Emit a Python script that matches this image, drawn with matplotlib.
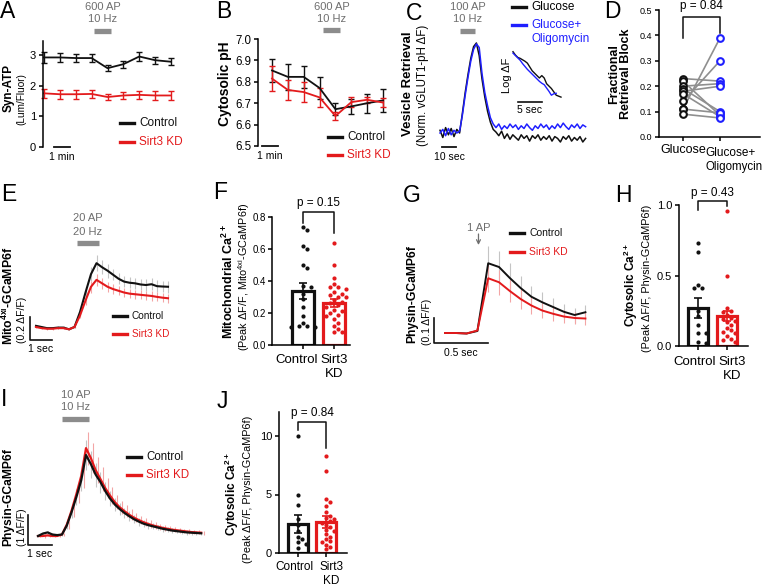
import matplotlib
matplotlib.use('Agg')
import matplotlib.pyplot as plt
import numpy as np
from matplotlib.lines import Line2D
from matplotlib.transforms import blended_transform_factory as blend

plt.rcParams['font.family'] = ['Liberation Sans', 'DejaVu Sans']
plt.rcParams['mathtext.fontset'] = 'custom'
plt.rcParams['mathtext.rm'] = 'Liberation Sans'
plt.rcParams['mathtext.default'] = 'regular'
plt.rcParams['axes.linewidth'] = 1.1
plt.rcParams['xtick.major.width'] = 1.1
plt.rcParams['ytick.major.width'] = 1.1
plt.rcParams['xtick.major.size'] = 3
plt.rcParams['ytick.major.size'] = 3
plt.rcParams['xtick.major.pad'] = 2
plt.rcParams['ytick.major.pad'] = 2

BLACK = '#111111'
RED = '#e31a1c'
BLUE = '#1f1fff'
GRAY = '#8c8c8c'
TGRAY = '#6e6e6e'
EGRAY = '#c4c4c4'
EPINK = '#f3a5a5'

# ---------------- data ----------------
# A: Syn-ATP, one point per minute
a_ctrl = [2.92, 2.92, 2.90, 2.90, 2.57, 2.70, 2.95, 2.83, 2.78]
a_ctrl_err = [0.17, 0.15, 0.14, 0.14, 0.10, 0.12, 0.15, 0.12, 0.12]
a_kd = [1.75, 1.72, 1.72, 1.73, 1.63, 1.68, 1.70, 1.68, 1.68]
a_kd_err = [0.15, 0.14, 0.14, 0.13, 0.10, 0.12, 0.13, 0.14, 0.15]

# B: cytosolic pH
b_ctrl = [6.853, 6.823, 6.823, 6.771, 6.672, 6.685, 6.700, 6.713]
b_ctrl_err = [0.055, 0.062, 0.050, 0.050, 0.028, 0.035, 0.045, 0.052]
b_kd = [6.815, 6.762, 6.752, 6.727, 6.640, 6.705, 6.716, 6.703]
b_kd_err = [0.058, 0.045, 0.045, 0.045, 0.020, 0.025, 0.015, 0.020]

# C: vesicle retrieval traces, every 2 s
c_glc = [0.03, -0.05, 0.06, -0.02, 0.05, -0.04, 0.04, 0.00, 0.22, 0.45,
         0.65, 0.83, 0.96, 1.00, 0.86, 0.60, 0.40, 0.24, 0.12, 0.04,
         0.01, -0.03, 0.02, -0.06, -0.01, -0.07, -0.02, -0.05, -0.08, -0.02,
         -0.06, -0.03, -0.09, -0.03, -0.06, -0.02, -0.08, -0.04, -0.07, -0.03,
         -0.09, -0.04, -0.06, -0.10, -0.04, -0.07, -0.03, -0.09, -0.05, -0.08,
         -0.04, -0.10, -0.06]
c_olig = [0.00, 0.04, -0.03, 0.05, -0.02, 0.03, 0.00, 0.02, 0.20, 0.42,
          0.62, 0.80, 0.93, 0.99, 0.95, 0.66, 0.45, 0.30, 0.17, 0.10,
          0.06, 0.10, 0.04, 0.08, 0.05, 0.10, 0.06, 0.09, 0.04, 0.08,
          0.05, 0.10, 0.06, 0.03, 0.08, 0.05, 0.10, 0.06, 0.09, 0.04,
          0.08, 0.05, 0.10, 0.06, 0.11, 0.07, 0.04, 0.09, 0.06, 0.10,
          0.05, 0.09, 0.07]
# C inset: log dF decay, every 0.5 s
ci_glc = [0.0, -0.07, -0.12, -0.14, -0.17, -0.20, -0.24, -0.32, -0.40, -0.45,
          -0.50, -0.55, -0.50, -0.55, -0.67, -0.72, -0.77, -0.84, -0.91, -0.93, -0.95]
ci_olig = [-0.03, -0.08, -0.13, -0.18, -0.25, -0.31, -0.37, -0.42, -0.47, -0.52,
           -0.57, -0.62, -0.66, -0.69, -0.76, -0.83, -0.91, -0.88, -0.87]

# D: fractional retrieval block (paired)
d_glc = [0.23, 0.22, 0.20, 0.19, 0.18, 0.17, 0.14, 0.11, 0.11, 0.09]
d_olig = [0.22, 0.085, 0.21, 0.10, 0.20, 0.08, 0.30, 0.39, 0.095, 0.075]

# E: Mito-GCaMP6f, every 0.25 s
e_ctrl = [0.01, 0.0, -0.01, -0.01, -0.005, -0.005, -0.02, 0.0, 0.13, 0.30,
          0.46, 0.555, 0.52, 0.49, 0.455, 0.42, 0.395, 0.385, 0.38, 0.37,
          0.365, 0.372, 0.355, 0.352, 0.35]
e_kd = [0.0, -0.01, -0.015, -0.015, -0.01, -0.01, -0.02, 0.0, 0.10, 0.23,
        0.35, 0.41, 0.38, 0.35, 0.33, 0.315, 0.30, 0.29, 0.285, 0.28,
        0.275, 0.27, 0.262, 0.255, 0.25]
e_ctrl_err = [0.01, 0.01, 0.01, 0.01, 0.01, 0.01, 0.01, 0.01, 0.03, 0.05,
              0.06, 0.07, 0.06, 0.06, 0.05, 0.05, 0.05, 0.05, 0.05, 0.05,
              0.05, 0.05, 0.05, 0.05, 0.05]
e_kd_err = [0.01, 0.01, 0.01, 0.01, 0.01, 0.01, 0.01, 0.01, 0.02, 0.04,
            0.05, 0.05, 0.05, 0.045, 0.04, 0.04, 0.04, 0.04, 0.04, 0.04,
            0.04, 0.04, 0.04, 0.04, 0.04]

# F: mitochondrial Ca2+
f_ctrl = [0.74, 0.72, 0.62, 0.60, 0.50, 0.48, 0.37, 0.36, 0.32, 0.29, 0.24,
          0.18, 0.14, 0.12, 0.11, 0.11, 0.12]
f_kd = [0.64, 0.50, 0.42, 0.38, 0.36, 0.36, 0.35, 0.33, 0.32, 0.31, 0.30, 0.30,
        0.28, 0.27, 0.26, 0.25, 0.24, 0.22, 0.21, 0.20, 0.19, 0.18, 0.16, 0.14,
        0.12, 0.10, 0.08, 0.08]
f_mean = [0.34, 0.265]
f_sem = [0.05, 0.025]

# G: Physin-GCaMP6f 1 AP, every 0.1 s
g_ctrl = [0.0, 0.0, -0.002, 0.008, 0.279, 0.264, 0.22, 0.18, 0.145, 0.123,
          0.104, 0.085, 0.072, 0.083]
g_kd = [0.0, 0.0, -0.002, 0.01, 0.219, 0.203, 0.168, 0.136, 0.11, 0.09,
        0.077, 0.066, 0.06, 0.058]
g_ctrl_err = [0, 0, 0, 0, 0.07, 0.065, 0.06, 0.05, 0.045, 0.04, 0.035, 0.03, 0.03, 0.03]
g_kd_err = [0, 0, 0, 0, 0.055, 0.05, 0.045, 0.04, 0.035, 0.03, 0.03, 0.025, 0.025, 0.025]

# H: cytosolic Ca2+ (1 AP)
h_ctrl = [0.73, 0.67, 0.43, 0.41, 0.41, 0.25, 0.21, 0.15, 0.09, 0.09, 0.03, 0.02]
h_kd = [0.96, 0.50, 0.27, 0.25, 0.24, 0.22, 0.20, 0.19, 0.18, 0.17, 0.15, 0.13,
        0.11, 0.10, 0.09, 0.07, 0.05, 0.04, 0.03]
h_mean = [0.27, 0.21]
h_sem = [0.07, 0.035]

# I: Physin-GCaMP6f 10 AP, every 0.2 s
i_ctrl = [0.0, 0.08, 0.12, 0.05, 0.03, 0.05, 0.35, 0.8, 1.3, 1.85,
          2.7, 2.4, 2.05, 1.8, 1.5, 1.25, 1.05, 0.9, 0.77, 0.66,
          0.56, 0.48, 0.41, 0.36, 0.32, 0.28, 0.24, 0.21, 0.18, 0.16,
          0.14, 0.12, 0.11, 0.10, 0.09]
i_kd = [0.0, 0.0, 0.02, 0.0, 0.0, 0.05, 0.38, 0.85, 1.4, 2.0,
        2.93, 2.6, 2.2, 1.9, 1.6, 1.35, 1.13, 0.96, 0.83, 0.71,
        0.61, 0.53, 0.46, 0.40, 0.35, 0.31, 0.27, 0.24, 0.21, 0.19,
        0.17, 0.15, 0.13, 0.12, 0.11]
i_err = [0.04, 0.05, 0.05, 0.04, 0.04, 0.05, 0.12, 0.2, 0.28, 0.36,
         0.5, 0.45, 0.4, 0.35, 0.3, 0.26, 0.22, 0.2, 0.18, 0.16,
         0.14, 0.13, 0.12, 0.11, 0.1, 0.09, 0.09, 0.08, 0.08, 0.07,
         0.07, 0.07, 0.06, 0.06, 0.06]

# J: cytosolic Ca2+ (10 AP)
j_ctrl = [10.0, 5.0, 4.1, 2.9, 2.4, 1.9, 1.4, 1.2, 0.9, 0.8, 0.4]
j_kd = [8.3, 7.0, 4.6, 4.4, 4.0, 3.5, 3.2, 3.0, 2.9, 2.7, 2.6, 2.4, 2.2, 2.0,
        1.9, 1.6, 1.4, 1.2, 1.0, 0.9, 0.7, 0.5, 0.3]
j_mean = [2.5, 2.65]
j_sem = [0.75, 0.5]

# ---------------- helpers ----------------
W, H = 763, 587
fig = plt.figure(figsize=(W / 100, H / 100), dpi=100)
fig.patch.set_facecolor('white')


def mapped_axes(left, top, right, bottom, x0px, x0, xs, y0px, y0, ys):
    ax = fig.add_axes([left / W, 1 - bottom / H, (right - left) / W, (bottom - top) / H])
    ax.set_xlim(x0 + (left - x0px) / xs, x0 + (right - x0px) / xs)
    ax.set_ylim(y0 - (bottom - y0px) / ys, y0 + (y0px - top) / ys)
    ax.patch.set_alpha(0)
    return ax


def ftxt(x, y, s, **kw):
    kw.setdefault('ha', 'center')
    kw.setdefault('va', 'center')
    fig.text(x / W, 1 - y / H, s, **kw)


def ylab(x, y, s, size, bold=False):
    ftxt(x, y, s, rotation=90, fontsize=size, fontweight='bold' if bold else 'normal')


def stim(ax, t0, t1, ybar, y1, y2, l1, l2, fs=8):
    tr = blend(ax.transData, fig.transFigure)
    ax.plot([t0, t1], [1 - ybar / H] * 2, transform=tr, color=GRAY, lw=3.8,
            solid_capstyle='butt', clip_on=False)
    xc = (t0 + t1) / 2
    ax.text(xc, 1 - y1 / H, l1, transform=tr, ha='center', va='center', color=TGRAY, fontsize=fs)
    ax.text(xc, 1 - y2 / H, l2, transform=tr, ha='center', va='center', color=TGRAY, fontsize=fs)


def xtext(ax, x, ypx, s, fs, **kw):
    tr = blend(ax.transData, fig.transFigure)
    ax.text(x, 1 - ypx / H, s, transform=tr, ha=kw.pop('ha', 'center'), va='center', fontsize=fs, **kw)


def legend(x, y, dy, labels, colors, fs, ll=14):
    for i, (lab, c) in enumerate(zip(labels, colors)):
        yy = y + i * dy
        fig.add_artist(Line2D([x / W, (x + ll) / W], [1 - yy / H] * 2, color=c, lw=2.4,
                              transform=fig.transFigure))
        ftxt(x + ll + 5, yy, lab, color=c, fontsize=fs, ha='left')


def unclip(cont):
    for art in cont.get_children():
        art.set_clip_on(False)


def swarm(vals, ppu_x, ppu_y, d=4.6):
    vals = np.asarray(vals, float)
    offs = np.zeros(len(vals))
    placed = []
    cands = [0.0] + [s * k * d * 0.9 for k in range(1, 10) for s in (1, -1)]
    for i in np.argsort(-vals):
        yp = vals[i] * ppu_y
        for c in cands:
            if all((c - px) ** 2 + (yp - py) ** 2 >= d * d for px, py in placed):
                break
        placed.append((c, yp))
        offs[i] = c / ppu_x
    return offs


def bar_panel(ax, means, sems, pts, ppu_x, ppu_y, tick_fs, lab_fs, lab_y, lab_dx):
    cols = [BLACK, RED]
    ax.bar([0, 1], means, width=0.7, color='white', edgecolor=cols, linewidth=2.3, zorder=1)
    for i in range(2):
        eb = ax.errorbar(i, means[i], yerr=sems[i], color=cols[i], capsize=3,
                         elinewidth=1.2, capthick=1.2, zorder=2)
        unclip(eb)
        offs = swarm(pts[i], ppu_x, ppu_y)
        ax.scatter(i + offs, pts[i], s=9, color=cols[i], zorder=3, linewidths=0, clip_on=False)
    ax.spines[['top', 'right']].set_visible(False)
    ax.set_xticks([0, 1])
    ax.set_xticklabels(['', ''])
    ax.tick_params(axis='y', labelsize=tick_fs)
    xtext(ax, 0 + lab_dx[0], lab_y, 'Control', lab_fs)
    xtext(ax, 1 + lab_dx[1], lab_y, 'Sirt3', lab_fs)
    xtext(ax, 1 + lab_dx[1], lab_y + 14, 'KD', lab_fs)


def bracket(ax, yl, ytop, yr, ytext, label, fs=8.5):
    ax.plot([0, 0, 1, 1], [yl, ytop, ytop, yr], color=BLACK, lw=1.1, clip_on=False)
    ax.text(0.5, ytext, label, ha='center', va='center', fontsize=fs)


# ---------------- A ----------------
axA = mapped_axes(43, 41, 178, 147, 44, 0, 15.875, 147, 0, 30.67)
a_t = np.arange(len(a_ctrl))
unclip(axA.errorbar(a_t, a_ctrl, yerr=a_ctrl_err, color=BLACK, lw=1.3, capsize=2.5,
                    elinewidth=1, capthick=1))
unclip(axA.errorbar(a_t, a_kd, yerr=a_kd_err, color=RED, lw=1.3, capsize=2.5,
                    elinewidth=1, capthick=1))
axA.spines[['top', 'right', 'bottom']].set_visible(False)
axA.set_xticks([])
axA.set_yticks([0, 1, 2, 3])
axA.tick_params(axis='y', labelsize=8)
stim(axA, 3.15, 4.22, 31, 7, 19, '600 AP', '10 Hz')
axA.plot([0.63, 1.63], [0, 0], color=BLACK, lw=1.3, clip_on=False)
xtext(axA, 1.13, 157, '1 min', 7.5)
legend(120, 123, 19, ['Control', 'Sirt3 KD'], [BLACK, RED], 8.5)
ylab(9, 88, 'Syn-ATP', 8.5, bold=True)
ylab(21, 99, '(Lum/Fluor)', 7.2)

# ---------------- B ----------------
axB = mapped_axes(258, 39, 392, 146, 272, 0, 15.86, 146, 6.5, 214)
b_t = np.arange(len(b_ctrl))
unclip(axB.errorbar(b_t, b_ctrl, yerr=b_ctrl_err, color=BLACK, lw=1.3, capsize=2.5,
                    elinewidth=1, capthick=1))
unclip(axB.errorbar(b_t, b_kd, yerr=b_kd_err, color=RED, lw=1.3, capsize=2.5,
                    elinewidth=1, capthick=1))
axB.spines[['top', 'right', 'bottom']].set_visible(False)
axB.set_xticks([])
axB.set_yticks([6.5, 6.6, 6.7, 6.8, 6.9, 7.0])
axB.set_yticklabels(['6.5', '6.6', '6.7', '6.8', '6.9', '7.0'])
axB.tick_params(axis='y', labelsize=8.3)
stim(axB, 3.21, 4.29, 30, 7, 19, '600 AP', '10 Hz')
axB.plot([-0.63, 0.37], [6.5, 6.5], color=BLACK, lw=1.3, clip_on=False)
xtext(axB, -0.13, 156, '1 min', 7.5)
legend(328, 137, 18, ['Control', 'Sirt3 KD'], [BLACK, RED], 8.5)
ylab(225, 84, 'Cytosolic pH', 10, bold=True)

# ---------------- C ----------------
axC = mapped_axes(438, 38, 590, 152, 440, 0, 1.4, 133, 0, 90)
c_t = np.arange(len(c_glc)) * 2.0
axC.plot(c_t, c_glc, color=BLACK, lw=1.1)
axC.plot(c_t, c_olig, color=BLUE, lw=1.1)
axC.axis('off')
stim(axC, 14.3, 25.0, 31, 7, 19, '100 AP', '10 Hz')
axC.plot([1.4, 11.4], [-0.156, -0.156], color=BLACK, lw=1.3, clip_on=False)
xtext(axC, 6.4, 157, '10 sec', 7.5)

axCi = mapped_axes(510, 46, 568, 106, 513, 0, 4.8, 51.7, 0, 47.8)
axCi.plot(np.arange(len(ci_glc)) * 0.5, ci_glc, color=BLACK, lw=1.0)
axCi.plot(np.arange(len(ci_olig)) * 0.5, ci_olig, color=BLUE, lw=1.0)
axCi.axis('off')
axCi.plot([1.04, 6.04], [-1.05, -1.05], color=BLACK, lw=1.2, clip_on=False)
xtext(axCi, 3.54, 110, '5 sec', 7.5)
ylab(507, 75, 'Log ΔF', 8)

fig.add_artist(Line2D([512 / W, 526 / W], [1 - 7 / H] * 2, color=BLACK, lw=2.4, transform=fig.transFigure))
fig.add_artist(Line2D([512 / W, 526 / W], [1 - 25 / H] * 2, color=BLUE, lw=2.4, transform=fig.transFigure))
ftxt(531, 7, 'Glucose', fontsize=8.5, ha='left')
ftxt(531, 25, 'Glucose+', fontsize=8.5, ha='left', color=BLUE)
ftxt(531, 39, 'Oligomycin', fontsize=8.5, ha='left', color=BLUE)
ylab(408, 84, 'Vesicle Retrieval', 9.5, bold=True)
ylab(423, 85, '(Norm. vGLUT1-pH ΔF)', 8.3)

# ---------------- D ----------------
axD = mapped_axes(659, 10, 760, 137, 683, 0, 37, 137, 0, 254)
for g, o in zip(d_glc, d_olig):
    axD.plot([0, 1], [g, o], color='#8f8f8f', lw=1.2, zorder=1)
axD.plot(np.zeros(len(d_glc)), d_glc, 'o', mfc='white', mec=BLACK, ms=4.8, mew=1.5, zorder=2, clip_on=False)
axD.plot(np.ones(len(d_olig)), d_olig, 'o', mfc='white', mec=BLUE, ms=4.8, mew=1.5, zorder=2, clip_on=False)
axD.spines[['top', 'right']].set_visible(False)
axD.set_yticks([0.0, 0.1, 0.2, 0.3, 0.4, 0.5])
axD.set_yticklabels(['0.0', '0.1', '0.2', '0.3', '0.4', '0.5'])
axD.tick_params(axis='y', labelsize=6.5)
axD.set_xticks([0, 1])
axD.set_xticklabels(['Glucose', ''], fontsize=9)
xtext(axD, 0.6, 153, 'Glucose+', 8.5, ha='left')
xtext(axD, 0.6, 167, 'Oligomycin', 8.3, ha='left')
bracket(axD, 0.39, 0.472, 0.41, 0.516, 'p = 0.84')
ftxt(620, 74, 'Fractional\nRetrieval Block', rotation=90, fontsize=9, fontweight='bold', linespacing=1.05)

# ---------------- E ----------------
axE = mapped_axes(34, 240, 176, 345, 36, 0, 22, 327, 0, 115)
e_t = np.arange(len(e_ctrl)) * 0.25
e_c, e_k = np.array(e_ctrl), np.array(e_kd)
axE.vlines(e_t, e_c - e_ctrl_err, e_c + e_ctrl_err, color=EGRAY, lw=0.8)
axE.vlines(e_t, e_k - e_kd_err, e_k + e_kd_err, color=EPINK, lw=0.8)
axE.plot(e_t, e_ctrl, color=BLACK, lw=1.5)
axE.plot(e_t, e_kd, color=RED, lw=1.5)
axE.axis('off')
stim(axE, 1.86, 2.86, 243, 218, 232, '20 AP', '20 Hz')
axE.plot([-0.27, -0.27, 0.73], [0.087, -0.113, -0.113], color=BLACK, lw=1.2, clip_on=False)
xtext(axE, 0.23, 349, '1 sec', 7.5)
legend(113, 316, 18, ['Control', 'Sirt3 KD'], [BLACK, RED], 7.2)
ylab(8, 296, 'Mito$^{4xi}$-GCaMP6f', 8.8, bold=True)
ylab(22, 320, '(0.2 ΔF/F)', 7.5)

# ---------------- F ----------------
axF = mapped_axes(272, 217, 350, 345, 303, 0, 31, 345, 0, 160)
bar_panel(axF, f_mean, f_sem, [f_ctrl, f_kd], 31, 160, 7, 9.5, 360, (-0.19, 0.0))
axF.set_yticks([0.0, 0.2, 0.4, 0.6, 0.8])
axF.set_yticklabels(['0.0', '0.2', '0.4', '0.6', '0.8'])
axF.set_ylim(0, 0.8)
axF.tick_params(axis='y', pad=1.5)
bracket(axF, 0.76, 0.83, 0.70, 0.89, 'p = 0.15')
ylab(228, 282, 'Mitochondrial Ca$^{2+}$', 9, bold=True)
ylab(244, 277, '(Peak ΔF/F, Mito$^{4xi}$-GCaMP6f)', 7.8)

# ---------------- G ----------------
axG = mapped_axes(440, 240, 592, 345, 445, 0, 108, 333, 0, 250)
g_t = np.arange(len(g_ctrl)) * 0.1
g_c, g_k = np.array(g_ctrl), np.array(g_kd)
axG.vlines(g_t[4:], (g_c - g_ctrl_err)[4:], (g_c + g_ctrl_err)[4:], color=EGRAY, lw=0.8)
axG.vlines(g_t[4:], (g_k - g_kd_err)[4:], (g_k + g_kd_err)[4:], color=EPINK, lw=0.8)
axG.plot(g_t, g_ctrl, color=BLACK, lw=1.4)
axG.plot(g_t, g_kd, color=RED, lw=1.4)
axG.axis('off')
trG = blend(axG.transData, fig.transFigure)
axG.text(0.31, 1 - 228 / H, '1 AP', transform=trG, ha='center', va='center', color=TGRAY, fontsize=8)
axG.annotate('', xy=(0.31, 1 - 245 / H), xytext=(0.31, 1 - 234 / H), xycoords=trG, textcoords=trG,
             arrowprops=dict(arrowstyle='->', color=TGRAY, lw=0.9, shrinkA=0, shrinkB=0,
                             mutation_scale=7))
axG.plot([-0.1, -0.1, 0.4], [0.06, -0.04, -0.04], color=BLACK, lw=1.2, clip_on=False)
xtext(axG, 0.15, 353, '0.5 sec', 7.5)
legend(510, 233, 19, ['Control', 'Sirt3 KD'], [BLACK, RED], 7.5)
ylab(412, 294, 'Physin-GCaMP6f', 8.7, bold=True)
ylab(427, 322, '(0.1 ΔF/F)', 7.5)

# ---------------- H ----------------
axH = mapped_axes(679, 205, 748, 346, 698, 0, 29, 346, 0, 141)
bar_panel(axH, h_mean, h_sem, [h_ctrl, h_kd], 29, 141, 8, 9.5, 362, (-0.12, 0.17))
axH.set_yticks([0.0, 0.5, 1.0])
axH.set_yticklabels(['0.0', '0.5', '1.0'])
axH.set_ylim(0, 1.0)
bracket(axH, 0.965, 1.03, 0.995, 1.085, 'p = 0.43')
ylab(631, 285, 'Cytosolic Ca$^{2+}$', 8.5, bold=True)
ylab(647, 278, '(Peak ΔF/F, Physin-GCaMP6f)', 7.8)

# ---------------- I ----------------
axI = mapped_axes(36, 420, 206, 548, 38, 0, 24, 536, 0, 30)
i_t = np.arange(len(i_ctrl)) * 0.2
i_c, i_k = np.array(i_ctrl), np.array(i_kd)
axI.vlines(i_t, i_c - i_err, i_c + i_err, color=EGRAY, lw=0.8)
axI.vlines(i_t + 0.1, i_k - np.array(i_err) * 1.1, i_k + np.array(i_err) * 1.1, color=EPINK, lw=0.8)
axI.plot(i_t, i_kd, color=RED, lw=1.6)
axI.plot(i_t, i_ctrl, color=BLACK, lw=1.6)
axI.axis('off')
stim(axI, 1.0, 2.12, 419, 395, 407, '10 AP', '10 Hz')
axI.plot([-0.42, -0.42, 0.58], [0.7, -0.3, -0.3], color=BLACK, lw=1.2, clip_on=False)
xtext(axI, 0.08, 554, '1 sec', 7.5)
legend(127, 457, 18, ['Control', 'Sirt3 KD'], [BLACK, RED], 8.3)
ylab(8, 497, 'Physin-GCaMP6f', 8.7, bold=True)
ylab(22, 527, '(1 ΔF/F)', 7.5)

# ---------------- J ----------------
axJ = mapped_axes(279, 412, 347, 553, 298, 0, 28, 553, 0, 11.7)
bar_panel(axJ, j_mean, j_sem, [j_ctrl, j_kd], 28, 11.7, 8, 8.5, 567, (-0.14, 0.2))
axJ.set_yticks([0, 5, 10])
bracket(axJ, 10.5, 11.2, 9.0, 12.0, 'p = 0.84')
ylab(232, 494, 'Cytosolic Ca$^{2+}$', 8.5, bold=True)
ylab(248, 489, '(Peak ΔF/F, Physin-GCaMP6f)', 7.8)

# ---------------- panel letters ----------------
for lab, x, y in [('A', 8, 12), ('B', 224, 12), ('C', 414, 14), ('D', 612, 12),
                  ('E', 9, 195), ('F', 220, 193), ('G', 412, 196), ('H', 623, 196),
                  ('I', 4, 400), ('J', 222, 402)]:
    ftxt(x, y, lab, fontsize=16.5)

fig.savefig('out.png', dpi=100)
